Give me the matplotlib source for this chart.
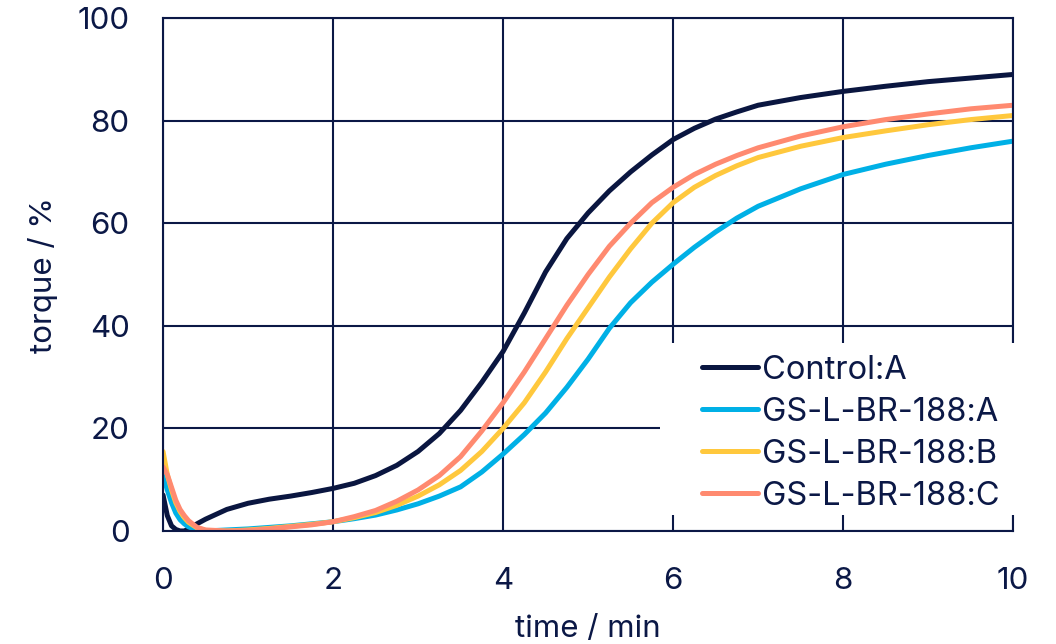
import matplotlib
matplotlib.use('Agg')
import matplotlib.pyplot as plt
from matplotlib.patches import Rectangle

# time axis (min) and torque (%)
time_min = [0, 0.05, 0.1, 0.15, 0.2, 0.25, 0.3, 0.4, 0.5, 0.75, 1.0, 1.25, 1.5, 1.75,
            2.0, 2.25, 2.5, 2.75, 3.0, 3.25, 3.5, 3.75, 4.0, 4.25, 4.5, 4.75,
            5.0, 5.25, 5.5, 5.75, 6.0, 6.25, 6.5, 6.75, 7.0, 7.5, 8.0, 8.5,
            9.0, 9.5, 10.0]

control_a = [7, 3, 1, 0.3, 0, 0, 0.4, 1.4, 2.3, 4.2, 5.4, 6.2, 6.8, 7.5,
             8.3, 9.3, 10.8, 12.8, 15.5, 19, 23.5, 29, 35, 42.5, 50.5, 57,
             62, 66.3, 70, 73.3, 76.3, 78.5, 80.3, 81.7, 83, 84.5, 85.7, 86.7,
             87.6, 88.3, 89]

gs_a = [11, 8, 5.5, 3.5, 2.2, 1.4, 0.8, 0.2, 0, 0.2, 0.4, 0.7, 1.0, 1.4,
        1.8, 2.4, 3.1, 4.1, 5.3, 6.8, 8.6, 11.5, 15, 18.8, 23, 28,
        33.5, 39.5, 44.5, 48.5, 52, 55.3, 58.3, 61, 63.3, 66.7, 69.5, 71.5,
        73.2, 74.7, 76]

gs_b = [15.5, 11, 8, 5.5, 3.8, 2.6, 1.7, 0.6, 0.1, 0, 0.2, 0.5, 0.9, 1.3,
        1.8, 2.6, 3.6, 5, 6.8, 9, 11.8, 15.5, 20, 25, 31, 37.5,
        43.5, 49.5, 55, 60, 64, 67, 69.3, 71.2, 72.8, 75, 76.7, 78,
        79.2, 80.2, 81]

gs_c = [12.5, 11, 8.5, 6, 4.2, 3, 2, 0.7, 0.2, 0, 0.1, 0.4, 0.8, 1.2,
        1.8, 2.8, 4, 5.8, 8, 10.8, 14.5, 19.5, 25, 31, 37.5, 44,
        50, 55.5, 60, 64, 67, 69.5, 71.5, 73.2, 74.7, 77, 78.8, 80.2,
        81.3, 82.3, 83]

labels = ['Control:A', 'GS-L-BR-188:A', 'GS-L-BR-188:B', 'GS-L-BR-188:C']
colors = ['#0a1640', '#00b0e6', '#ffc83d', '#ff8a70']

navy = '#0b1846'
plt.rcParams['font.family'] = ['Inter', 'DejaVu Sans']

fig = plt.figure(figsize=(10.56, 6.44), dpi=100)
ax = fig.add_axes([0.1544, 0.1755, 0.805, 0.7965])

for series, lab, col in zip([control_a, gs_a, gs_b, gs_c], labels, colors):
    ax.plot(time_min, series, color=col, lw=3.6, label=lab,
            solid_capstyle='round', solid_joinstyle='round')

ax.set_xlim(0, 10)
ax.set_ylim(0, 100)
ax.set_xticks([0, 2, 4, 6, 8, 10])
ax.set_yticks([0, 20, 40, 60, 80, 100])
ax.grid(True, color=navy, lw=1.5, zorder=0)
ax.set_axisbelow(True)
for sp in ax.spines.values():
    sp.set_color(navy)
    sp.set_linewidth(1.5)

ax.tick_params(length=0, labelsize=22.5, colors=navy)
ax.tick_params(axis='y', pad=24)
ax.tick_params(axis='x', pad=26)
ax.set_xlabel('time / min', fontsize=22.5, color=navy, labelpad=14)
ax.set_ylabel('torque / %', fontsize=22.5, color=navy, labelpad=14)

# white block behind the legend, hiding the grid there
ax.add_patch(Rectangle((0.585, 0.031), 0.425, 0.335, transform=ax.transAxes,
                       facecolor='white', edgecolor='none', zorder=2.6, clip_on=False))

leg = ax.legend(loc='lower right', bbox_to_anchor=(0.997, 0.015), borderaxespad=0,
                fontsize=23.5, frameon=False, handlelength=1.7,
                handletextpad=0.12, labelspacing=0.34, borderpad=0.35)
leg.set_zorder(5)
for txt in leg.get_texts():
    txt.set_color(navy)

fig.savefig('out.png', dpi=100)
